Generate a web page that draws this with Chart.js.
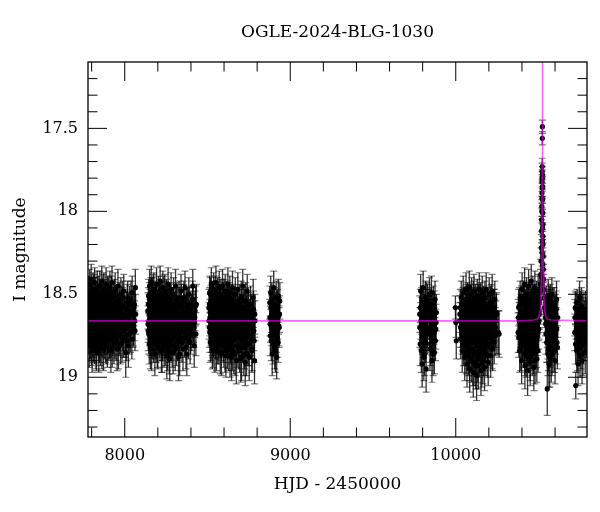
<!DOCTYPE html>
<html>
<head>
<meta charset="utf-8">
<script src="https://cdn.jsdelivr.net/npm/chart.js@4.4.1/dist/chart.umd.min.js"></script>
<style>
  html, body { margin: 0; padding: 0; background: #fff; }
  canvas { display: block; }
</style>
</head>
<body>
<canvas id="lc" width="600" height="512"></canvas>
<script>
// OGLE-2024-BLG-1030 light curve: [HJD-2450000, I mag, error]

const s2017 = [
  [7779,18.62,.11],[7781,18.49,.10],[7783,18.74,.12],[7785,18.58,.10],[7786,18.81,.13],[7788,18.44,.09],
  [7790,18.67,.11],[7792,18.55,.10],[7794,18.77,.12],[7795,18.63,.11],[7797,18.41,.09],[7799,18.70,.11],
  [7801,18.52,.10],[7803,18.84,.13],[7804,18.60,.11],[7806,18.73,.12],[7808,18.47,.10],[7810,18.66,.11],
  [7812,18.79,.12],[7814,18.56,.10],[7816,18.69,.11],[7818,18.43,.09],[7820,18.61,.11],[7822,18.75,.12],
  [7824,18.50,.10],[7826,18.82,.13],[7828,18.64,.11],[7830,18.57,.10],[7832,18.71,.12],[7834,18.46,.10],
  [7836,18.68,.11],[7838,18.53,.10],[7840,18.78,.12],[7843,18.85,.12],[7845,18.59,.11],[7847,18.72,.12],
  [7849,18.45,.09],[7851,18.65,.11],[7853,18.80,.13],[7855,18.54,.10],[7857,18.69,.11],[7859,18.62,.11],
  [7861,18.42,.09],[7863,18.76,.12],[7865,18.58,.10],[7867,18.70,.11],[7869,18.48,.10],[7871,18.83,.13],
  [7873,18.63,.11],[7875,18.55,.10],[7877,18.74,.12],[7879,18.66,.11],[7881,18.51,.10],[7883,18.79,.12],
  [7885,18.60,.11],[7887,18.44,.10],[7889,18.71,.12],[7891,18.57,.10],[7893,18.68,.11],[7895,18.81,.13],
  [7897,18.49,.10],[7899,18.64,.11],[7901,18.73,.12],[7903,18.53,.10],[7905,18.61,.11],[7908,18.77,.12],
  [7910,18.46,.10],[7912,18.67,.11],[7914,18.56,.10],[7916,18.84,.13],[7918,18.62,.11],[7920,18.70,.11],
  [7923,18.43,.10],[7925,18.59,.11],[7927,18.75,.12],[7930,18.52,.10],[7932,18.66,.11],[7935,18.80,.12],
  [7937,18.58,.10],[7940,18.69,.11],[7942,18.47,.10],[7945,18.63,.11],[7948,18.78,.12],[7950,18.55,.10],
  [7953,18.71,.12],[7956,18.60,.11],[7959,18.45,.10],[7962,18.82,.13],[7965,18.65,.11],[7968,18.53,.10],
  [7971,18.74,.12],[7974,18.61,.11],[7977,18.50,.10],[7980,18.68,.11],[7984,18.79,.12],[7987,18.57,.11],
  [7990,18.72,.12],[7994,18.48,.10],[7998,18.64,.11],[8002,18.76,.12],[8006,18.85,.15],[8010,18.59,.11],
  [8014,18.69,.12],[8018,18.52,.10],[8022,18.81,.13],[8026,18.63,.11],[8030,18.56,.11],[8035,18.73,.12],
  [8040,18.61,.11],[8045,18.49,.10],[8050,18.70,.12],[8055,18.58,.11],[8060,18.66,.12],[8064,18.46,.11],
  [8066,18.62,.12],
  [7780,18.70,.11],[7782,18.57,.10],[7784,18.65,.11],[7787,18.53,.10],[7789,18.78,.12],[7791,18.62,.11],
  [7793,18.50,.10],[7796,18.69,.11],[7798,18.81,.12],[7800,18.59,.11],[7802,18.66,.11],[7805,18.54,.10],
  [7807,18.76,.12],[7809,18.61,.11],[7811,18.72,.12],[7813,18.48,.10],[7815,18.64,.11],[7817,18.80,.12],
  [7819,18.57,.10],[7821,18.68,.11],[7823,18.52,.10],[7825,18.74,.12],[7827,18.60,.11],[7829,18.83,.13],
  [7831,18.65,.11],[7833,18.55,.10],[7835,18.71,.12],[7837,18.62,.11],[7839,18.49,.10],[7841,18.67,.11],
  [7844,18.73,.12],[7846,18.56,.10],[7848,18.79,.12],[7850,18.61,.11],[7852,18.68,.11],[7854,18.51,.10],
  [7856,18.75,.12],[7858,18.58,.11],[7860,18.70,.11],[7862,18.82,.13],[7864,18.64,.11],[7866,18.53,.10],
  [7868,18.72,.12],[7870,18.60,.11],[7872,18.67,.11],[7874,18.47,.10],[7876,18.77,.12],[7878,18.59,.11],
  [7880,18.69,.11],[7882,18.56,.10],[7884,18.73,.12],[7886,18.63,.11],[7888,18.80,.12],[7890,18.52,.10],
  [7892,18.66,.11],[7894,18.58,.11],[7896,18.74,.12],[7898,18.61,.11],[7900,18.50,.10],[7902,18.68,.11],
  [7904,18.78,.12],[7906,18.57,.11],[7909,18.65,.11],[7911,18.72,.12],[7913,18.54,.10],[7915,18.62,.11],
  [7917,18.76,.12],[7919,18.49,.10],[7921,18.67,.11],[7924,18.81,.13],[7926,18.60,.11],[7928,18.70,.12],
  [7931,18.56,.10],[7933,18.74,.12],[7936,18.63,.11],[7938,18.51,.10],[7941,18.77,.12],[7943,18.66,.11],
  [7946,18.58,.11],[7949,18.71,.12],[7951,18.64,.11],[7954,18.83,.13],[7957,18.55,.10],[7960,18.69,.11],
  [7963,18.61,.11],[7966,18.75,.12],[7969,18.59,.11],[7972,18.67,.11],[7975,18.80,.12],[7978,18.56,.11],
  [7982,18.70,.12],[7985,18.62,.11],[7988,18.52,.10],[7992,18.76,.12],[7996,18.65,.11],[8000,18.58,.11],
  [8004,18.71,.12],[8008,18.63,.11],[8012,18.78,.12],[8016,18.55,.11],[8020,18.67,.11],[8024,18.60,.11],
  [8028,18.74,.12],[8032,18.68,.12],[8038,18.53,.11],[8043,18.77,.12],[8048,18.62,.11],[8053,18.69,.12],
  [8058,18.56,.11],[8062,18.72,.12]
];

const s2018 = [
  [8140,18.60,.11],[8142,18.72,.12],[8144,18.51,.10],[8146,18.66,.11],[8148,18.80,.12],[8150,18.45,.10],
  [8152,18.62,.11],[8154,18.75,.12],[8156,18.55,.10],[8158,18.69,.11],[8160,18.43,.10],[8162,18.83,.13],
  [8164,18.58,.11],[8166,18.65,.11],[8168,18.50,.10],[8170,18.77,.12],[8172,18.61,.11],[8174,18.70,.11],
  [8176,18.47,.10],[8178,18.73,.12],[8180,18.56,.10],[8182,18.86,.13],[8184,18.64,.11],[8186,18.53,.10],
  [8188,18.68,.11],[8190,18.79,.12],[8192,18.44,.10],[8194,18.60,.11],[8196,18.71,.12],[8198,18.57,.10],
  [8200,18.82,.13],[8202,18.63,.11],[8204,18.49,.10],[8206,18.67,.11],[8208,18.76,.12],[8210,18.54,.10],
  [8212,18.66,.11],[8214,18.42,.09],[8216,18.74,.12],[8218,18.59,.11],[8220,18.69,.11],[8222,18.84,.13],
  [8224,18.52,.10],[8226,18.62,.11],[8228,18.78,.12],[8230,18.46,.10],[8232,18.65,.11],[8234,18.72,.12],
  [8236,18.56,.10],[8238,18.81,.13],[8240,18.61,.11],[8242,18.48,.10],[8244,18.70,.11],[8246,18.58,.11],
  [8248,18.75,.12],[8250,18.64,.11],[8252,18.51,.10],[8254,18.87,.14],[8256,18.67,.11],[8258,18.55,.10],
  [8260,18.73,.12],[8262,18.44,.10],[8264,18.62,.11],[8266,18.79,.12],[8268,18.59,.11],[8270,18.68,.11],
  [8272,18.89,.13],[8274,18.53,.10],[8276,18.71,.12],[8278,18.63,.11],[8280,18.47,.10],[8283,18.77,.12],
  [8286,18.57,.11],[8289,18.66,.11],[8292,18.85,.13],[8295,18.50,.10],[8298,18.69,.11],[8301,18.60,.11],
  [8304,18.74,.12],[8307,18.45,.10],[8310,18.64,.11],[8313,18.80,.13],[8316,18.56,.10],[8319,18.70,.12],
  [8322,18.62,.11],[8325,18.88,.14],[8328,18.52,.10],[8331,18.67,.11],[8334,18.76,.12],[8337,18.58,.11],
  [8340,18.48,.10],[8344,18.72,.12],[8348,18.63,.11],[8352,18.83,.13],[8356,18.55,.11],[8360,18.68,.11],
  [8364,18.46,.10],[8368,18.75,.12],[8372,18.61,.11],[8375,18.86,.13],[8379,18.57,.11],[8383,18.70,.12],
  [8387,18.50,.10],[8391,18.65,.11],[8395,18.79,.13],[8400,18.59,.11],[8405,18.72,.12],[8410,18.53,.11],
  [8411,18.45,.10],[8415,18.67,.12],[8420,18.81,.13],[8425,18.60,.12],[8430,18.74,.13],[8433,18.56,.12],
  [8141,18.68,.11],[8143,18.56,.10],[8145,18.74,.12],[8147,18.61,.11],[8149,18.53,.10],[8151,18.70,.11],
  [8153,18.58,.11],[8155,18.82,.13],[8157,18.64,.11],[8159,18.50,.10],[8161,18.67,.11],[8163,18.76,.12],
  [8165,18.55,.10],[8167,18.71,.12],[8169,18.62,.11],[8171,18.48,.10],[8173,18.79,.12],[8175,18.65,.11],
  [8177,18.57,.10],[8179,18.69,.11],[8181,18.73,.12],[8183,18.52,.10],[8185,18.60,.11],[8187,18.77,.12],
  [8189,18.66,.11],[8191,18.54,.10],[8193,18.72,.12],[8195,18.63,.11],[8197,18.81,.13],[8199,18.59,.11],
  [8201,18.68,.11],[8203,18.56,.10],[8205,18.74,.12],[8207,18.62,.11],[8209,18.51,.10],[8211,18.70,.12],
  [8213,18.78,.12],[8215,18.58,.11],[8217,18.65,.11],[8219,18.53,.10],[8221,18.72,.12],[8223,18.61,.11],
  [8225,18.84,.13],[8227,18.67,.11],[8229,18.55,.10],[8231,18.75,.12],[8233,18.60,.11],[8235,18.69,.11],
  [8237,18.49,.10],[8239,18.77,.12],[8241,18.64,.11],[8243,18.57,.10],[8245,18.80,.13],[8247,18.66,.11],
  [8249,18.52,.10],[8251,18.71,.12],[8253,18.62,.11],[8255,18.76,.12],[8257,18.59,.11],[8259,18.83,.13],
  [8261,18.68,.11],[8263,18.55,.10],[8265,18.73,.12],[8267,18.63,.11],[8269,18.85,.13],[8271,18.60,.11],
  [8273,18.70,.12],[8275,18.54,.10],[8277,18.78,.12],[8279,18.66,.11],[8281,18.58,.11],[8284,18.72,.12],
  [8287,18.81,.13],[8290,18.61,.11],[8293,18.69,.11],[8296,18.56,.10],[8299,18.75,.12],[8302,18.64,.11],
  [8305,18.83,.13],[8308,18.59,.11],[8311,18.71,.12],[8314,18.53,.10],[8317,18.67,.11],[8320,18.78,.12],
  [8323,18.62,.11],[8326,18.74,.12],[8329,18.57,.11],[8332,18.86,.13],[8335,18.65,.11],[8338,18.70,.12],
  [8342,18.55,.11],[8346,18.79,.12],[8350,18.62,.11],[8354,18.69,.12],[8358,18.52,.10],[8362,18.76,.12],
  [8366,18.64,.11],[8370,18.82,.13],[8373,18.58,.11],[8377,18.71,.12],[8381,18.63,.11],[8385,18.77,.12],
  [8389,18.56,.11],[8393,18.68,.12],[8398,18.74,.12],[8403,18.61,.11],[8408,18.66,.12],[8413,18.58,.12],
  [8418,18.70,.12],[8423,18.64,.12],[8428,18.57,.12]
];

const s2019 = [
  [8509,18.58,.11],[8511,18.70,.12],[8513,18.49,.10],[8515,18.64,.11],[8517,18.79,.12],[8519,18.55,.10],
  [8521,18.67,.11],[8523,18.44,.10],[8525,18.73,.12],[8527,18.61,.11],[8529,18.82,.13],[8531,18.52,.10],
  [8533,18.66,.11],[8535,18.76,.12],[8537,18.47,.10],[8539,18.63,.11],[8541,18.71,.12],[8543,18.57,.10],
  [8545,18.84,.13],[8547,18.60,.11],[8549,18.68,.11],[8551,18.43,.10],[8553,18.74,.12],[8555,18.54,.10],
  [8557,18.65,.11],[8559,18.80,.12],[8561,18.50,.10],[8563,18.69,.11],[8565,18.59,.11],[8567,18.77,.12],
  [8569,18.62,.11],[8571,18.46,.10],[8573,18.72,.12],[8575,18.56,.10],[8577,18.85,.13],[8579,18.64,.11],
  [8581,18.51,.10],[8583,18.70,.11],[8585,18.78,.12],[8587,18.58,.11],[8589,18.66,.11],[8591,18.45,.10],
  [8593,18.75,.12],[8595,18.61,.11],[8597,18.53,.10],[8599,18.81,.13],[8601,18.67,.11],[8603,18.57,.10],
  [8605,18.73,.12],[8607,18.48,.10],[8609,18.63,.11],[8611,18.87,.13],[8613,18.59,.11],[8615,18.69,.11],
  [8617,18.52,.10],[8619,18.76,.12],[8621,18.64,.11],[8623,18.44,.10],[8625,18.71,.12],[8627,18.56,.10],
  [8629,18.83,.13],[8631,18.61,.11],[8633,18.67,.11],[8635,18.49,.10],[8637,18.79,.12],[8639,18.58,.11],
  [8641,18.72,.12],[8643,18.62,.11],[8645,18.88,.14],[8647,18.54,.10],[8649,18.68,.11],[8651,18.46,.10],
  [8653,18.74,.12],[8656,18.60,.11],[8659,18.85,.13],[8662,18.57,.11],[8665,18.70,.12],[8668,18.50,.10],
  [8671,18.66,.11],[8674,18.90,.14],[8677,18.59,.11],[8680,18.73,.12],[8683,18.47,.10],[8686,18.63,.11],
  [8689,18.82,.13],[8692,18.55,.11],[8695,18.69,.12],[8698,18.61,.11],[8701,18.89,.14],[8704,18.52,.10],
  [8707,18.76,.12],[8710,18.64,.11],[8713,18.45,.10],[8716,18.71,.12],[8719,18.86,.13],[8722,18.58,.11],
  [8725,18.67,.11],[8728,18.91,.14],[8731,18.54,.11],[8734,18.74,.12],[8737,18.62,.11],[8740,18.48,.10],
  [8744,18.80,.13],[8748,18.60,.11],[8752,18.88,.14],[8756,18.69,.12],[8760,18.56,.11],[8764,18.77,.12],
  [8768,18.84,.13],[8772,18.63,.12],[8776,18.52,.11],[8780,18.72,.12],[8784,18.90,.14],[8787,18.66,.12],
  [8510,18.66,.11],[8512,18.56,.10],[8514,18.73,.12],[8516,18.61,.11],[8518,18.50,.10],[8520,18.70,.11],
  [8522,18.78,.12],[8524,18.58,.11],[8526,18.65,.11],[8528,18.53,.10],[8530,18.75,.12],[8532,18.62,.11],
  [8534,18.81,.13],[8536,18.67,.11],[8538,18.55,.10],[8540,18.72,.12],[8542,18.60,.11],[8544,18.68,.11],
  [8546,18.49,.10],[8548,18.77,.12],[8550,18.64,.11],[8552,18.57,.10],[8554,18.83,.13],[8556,18.69,.11],
  [8558,18.59,.11],[8560,18.74,.12],[8562,18.62,.11],[8564,18.52,.10],[8566,18.71,.12],[8568,18.80,.12],
  [8570,18.66,.11],[8572,18.56,.10],[8574,18.68,.11],[8576,18.61,.11],[8578,18.76,.12],[8580,18.54,.10],
  [8582,18.65,.11],[8584,18.86,.13],[8586,18.70,.12],[8588,18.60,.11],[8590,18.73,.12],[8592,18.57,.10],
  [8594,18.67,.11],[8596,18.79,.12],[8598,18.63,.11],[8600,18.51,.10],[8602,18.72,.12],[8604,18.62,.11],
  [8606,18.84,.13],[8608,18.66,.11],[8610,18.58,.11],[8612,18.75,.12],[8614,18.64,.11],[8616,18.70,.12],
  [8618,18.55,.10],[8620,18.82,.13],[8622,18.68,.11],[8624,18.60,.11],[8626,18.77,.12],[8628,18.65,.11],
  [8630,18.53,.10],[8632,18.73,.12],[8634,18.62,.11],[8636,18.87,.13],[8638,18.69,.11],[8640,18.57,.11],
  [8642,18.80,.12],[8644,18.66,.11],[8646,18.74,.12],[8648,18.59,.11],[8650,18.83,.13],[8652,18.63,.11],
  [8655,18.70,.12],[8658,18.55,.10],[8661,18.77,.12],[8664,18.65,.11],[8667,18.86,.13],[8670,18.60,.11],
  [8673,18.72,.12],[8676,18.64,.11],[8679,18.81,.13],[8682,18.57,.11],[8685,18.69,.12],[8688,18.76,.12],
  [8691,18.62,.11],[8694,18.84,.13],[8697,18.67,.11],[8700,18.73,.12],[8703,18.58,.11],[8706,18.88,.14],
  [8709,18.66,.11],[8712,18.79,.12],[8715,18.61,.11],[8718,18.71,.12],[8721,18.54,.10],[8724,18.82,.13],
  [8727,18.65,.11],[8730,18.76,.12],[8733,18.60,.11],[8736,18.86,.13],[8739,18.68,.11],[8742,18.73,.12],
  [8746,18.57,.11],[8750,18.80,.13],[8754,18.64,.11],[8758,18.75,.12],[8762,18.61,.11],[8766,18.70,.12],
  [8770,18.83,.13],[8774,18.66,.12],[8778,18.59,.11],[8782,18.78,.13],[8786,18.62,.12]
];

const s2020 = [
  [8876,18.55,.10],[8879,18.68,.11],[8882,18.49,.10],[8885,18.78,.12],[8888,18.62,.11],[8891,18.86,.13],
  [8894,18.57,.10],[8897,18.71,.12],[8900,18.46,.10],[8903,18.65,.11],[8906,18.82,.13],[8909,18.60,.11],
  [8912,18.74,.12],[8915,18.52,.10],[8918,18.88,.13],[8921,18.67,.11],[8924,18.58,.11],[8927,18.79,.12],
  [8930,18.63,.11],[8933,18.70,.12],[8937,18.54,.11],
  [8877,18.64,.11],[8880,18.75,.12],[8883,18.58,.10],[8886,18.70,.11],[8889,18.53,.10],[8892,18.66,.11],
  [8895,18.80,.12],[8898,18.61,.11],[8901,18.72,.12],[8904,18.56,.10],[8907,18.68,.11],[8910,18.84,.13],
  [8913,18.63,.11],[8916,18.73,.12],[8919,18.59,.11],[8922,18.76,.12],[8925,18.66,.11],[8928,18.51,.10],
  [8931,18.69,.12],[8935,18.62,.11]
];

const s2022 = [
  [9782,18.62,.11],[9785,18.80,.13],[9788,18.48,.10],[9791,18.71,.12],[9794,18.57,.11],[9797,18.92,.14],
  [9800,18.65,.11],[9803,18.46,.10],[9806,18.76,.12],[9809,18.59,.11],[9812,18.86,.13],[9815,18.68,.11],
  [9818,18.52,.10],[9821,18.95,.14],[9824,18.63,.11],[9827,18.74,.12],[9830,18.55,.11],
  [9838,18.66,.11],[9841,18.50,.10],[9844,18.83,.13],[9847,18.60,.11],[9850,18.73,.12],[9853,18.49,.10],
  [9856,18.90,.13],[9859,18.64,.11],[9862,18.77,.12],[9865,18.56,.11],[9868,18.69,.11],[9871,18.85,.13],
  [9875,18.53,.11],[9879,18.71,.12],[9883,18.61,.11],
  [9783,18.70,.12],[9786,18.58,.11],[9789,18.66,.11],[9792,18.84,.13],[9795,18.63,.11],[9798,18.74,.12],
  [9801,18.55,.10],[9804,18.69,.11],[9807,18.88,.14],[9810,18.61,.11],[9813,18.72,.12],[9816,18.58,.11],
  [9819,18.79,.12],[9822,18.66,.11],[9825,18.53,.10],[9828,18.70,.12],
  [9839,18.58,.11],[9842,18.72,.12],[9845,18.64,.11],[9848,18.80,.13],[9851,18.56,.10],[9854,18.68,.11],
  [9857,18.75,.12],[9860,18.61,.11],[9863,18.86,.13],[9866,18.66,.11],[9869,18.73,.12],[9872,18.59,.11],
  [9877,18.78,.12],[9881,18.67,.11]
];

const s2023 = [
  [9998,18.58,.07],[10001,18.67,.09],[10003,18.78,.11],
  [10024,18.66,.11],[10027,18.58,.11],[10030,18.77,.12],[10033,18.52,.10],[10036,18.70,.12],[10039,18.84,.13],
  [10042,18.61,.11],[10045,18.49,.10],[10048,18.74,.12],[10051,18.63,.11],[10054,18.88,.14],[10057,18.56,.11],
  [10060,18.69,.12],[10062,18.47,.10],[10064,18.80,.13],[10066,18.60,.11],[10068,18.92,.14],[10070,18.66,.11],
  [10072,18.53,.10],[10074,18.75,.12],[10076,18.86,.13],[10078,18.58,.11],[10080,18.71,.12],[10082,18.46,.10],
  [10084,18.95,.14],[10086,18.63,.11],[10088,18.79,.12],[10090,18.55,.11],[10092,18.68,.11],[10094,18.89,.14],
  [10096,18.50,.10],[10098,18.73,.12],[10100,18.61,.11],[10102,18.83,.13],[10104,18.57,.11],[10106,18.97,.15],
  [10108,18.66,.11],[10110,18.48,.10],[10112,18.77,.12],[10114,18.62,.11],[10116,18.91,.14],[10118,18.54,.10],
  [10120,18.70,.12],[10122,18.85,.13],[10124,18.59,.11],[10126,18.99,.15],[10128,18.67,.11],[10130,18.51,.10],
  [10132,18.80,.13],[10134,18.64,.11],[10136,18.93,.14],[10138,18.56,.11],[10140,18.72,.12],[10142,18.47,.10],
  [10144,18.87,.13],[10146,18.61,.11],[10148,18.76,.12],[10150,18.53,.10],[10152,18.96,.15],[10154,18.68,.11],
  [10156,18.58,.11],[10158,18.82,.13],[10160,18.49,.10],[10162,18.71,.12],[10164,18.90,.14],[10166,18.63,.11],
  [10168,18.55,.10],[10170,18.78,.12],[10172,18.66,.11],[10174,18.94,.14],[10176,18.52,.10],[10178,18.74,.12],
  [10180,18.60,.11],[10182,18.86,.13],[10184,18.47,.10],[10187,18.69,.12],[10190,18.81,.13],[10193,18.57,.11],
  [10196,18.91,.14],[10199,18.64,.11],[10202,18.50,.10],[10205,18.75,.12],[10208,18.62,.11],[10211,18.87,.13],
  [10214,18.55,.11],[10217,18.72,.12],[10220,18.48,.10],[10223,18.83,.13],[10226,18.66,.12],[10229,18.58,.11],
  [10232,18.79,.13],[10236,18.53,.11],[10240,18.70,.12],[10244,18.62,.12],[10248,18.74,.12],[10257,18.73,.13],
  [10262,18.74,.14],
  [10025,18.62,.11],[10029,18.70,.12],[10032,18.66,.11],[10035,18.59,.11],[10038,18.74,.12],[10041,18.68,.11],
  [10044,18.56,.10],[10047,18.80,.13],[10050,18.64,.11],[10053,18.71,.12],[10056,18.58,.11],[10059,18.76,.12],
  [10061,18.63,.11],[10063,18.85,.13],[10065,18.69,.11],[10067,18.54,.10],[10069,18.73,.12],[10071,18.61,.11],
  [10073,18.82,.13],[10075,18.67,.11],[10077,18.57,.10],[10079,18.78,.12],[10081,18.64,.11],[10083,18.88,.14],
  [10085,18.70,.12],[10087,18.55,.10],[10089,18.74,.12],[10091,18.62,.11],[10093,18.84,.13],[10095,18.66,.11],
  [10097,18.59,.11],[10099,18.79,.12],[10101,18.69,.11],[10103,18.91,.14],[10105,18.63,.11],[10107,18.52,.10],
  [10109,18.75,.12],[10111,18.67,.11],[10113,18.86,.13],[10115,18.58,.11],[10117,18.72,.12],[10119,18.64,.11],
  [10121,18.93,.14],[10123,18.69,.11],[10125,18.56,.10],[10127,18.81,.13],[10129,18.62,.11],[10131,18.74,.12],
  [10133,18.89,.14],[10135,18.66,.11],[10137,18.54,.10],[10139,18.78,.12],[10141,18.63,.11],[10143,18.71,.12],
  [10145,18.84,.13],[10147,18.58,.11],[10149,18.68,.11],[10151,18.80,.13],[10153,18.61,.11],[10155,18.73,.12],
  [10157,18.92,.14],[10159,18.65,.11],[10161,18.56,.10],[10163,18.77,.12],[10165,18.69,.11],[10167,18.86,.13],
  [10169,18.60,.11],[10171,18.72,.12],[10173,18.64,.11],[10175,18.83,.13],[10177,18.57,.10],[10179,18.70,.12],
  [10181,18.79,.12],[10183,18.62,.11],[10186,18.74,.12],[10189,18.66,.11],[10192,18.87,.13],[10195,18.59,.11],
  [10198,18.71,.12],[10201,18.80,.13],[10204,18.63,.11],[10207,18.68,.12],[10210,18.56,.11],[10213,18.76,.12],
  [10216,18.65,.11],[10219,18.82,.13],[10222,18.60,.11],[10225,18.71,.12],[10228,18.64,.12],[10231,18.69,.12],
  [10234,18.58,.11],[10238,18.75,.12],[10242,18.66,.12],[10246,18.61,.12]
];

const s2024 = [
  [10377,18.73,.12],[10380,18.58,.11],[10383,18.66,.11],[10386,18.84,.13],[10389,18.52,.10],[10392,18.70,.12],
  [10395,18.61,.11],[10398,18.90,.14],[10401,18.47,.10],[10404,18.76,.12],[10407,18.63,.11],[10410,18.55,.10],
  [10412,18.81,.13],[10414,18.68,.11],[10416,18.44,.10],[10418,18.93,.14],[10420,18.59,.11],[10422,18.72,.12],
  [10424,18.65,.11],[10426,18.87,.13],[10428,18.50,.10],[10430,18.78,.12],[10432,18.62,.11],[10434,18.96,.15],
  [10436,18.56,.10],[10438,18.70,.12],[10440,18.45,.10],[10442,18.83,.13],[10444,18.64,.11],[10446,18.74,.12],
  [10448,18.53,.10],[10450,18.91,.14],[10452,18.60,.11],[10454,18.68,.11],[10456,18.42,.10],[10458,18.79,.12],
  [10460,18.57,.11],[10462,18.86,.13],[10464,18.66,.11],[10466,18.49,.10],[10468,18.75,.12],[10470,18.62,.11],
  [10472,18.94,.14],[10474,18.55,.11],[10476,18.71,.12],[10478,18.46,.10],[10480,18.82,.13],[10482,18.63,.11],
  [10484,18.58,.11],[10486,18.77,.12],[10488,18.52,.10],[10490,18.89,.14],[10492,18.65,.11],[10494,18.60,.11],
  [10496,18.73,.12],[10498,18.48,.10],[10500,18.67,.11],[10502,18.56,.10],[10504,18.62,.11],[10506,18.55,.10],
  [10508,18.49,.10],[10510,18.53,.10],[10512,18.44,.09],[10514,18.38,.09],
  [10378,18.64,.11],[10381,18.76,.12],[10384,18.57,.11],[10387,18.73,.12],[10390,18.66,.11],[10393,18.83,.13],
  [10396,18.55,.10],[10399,18.69,.11],[10402,18.61,.11],[10405,18.79,.12],[10408,18.68,.11],[10411,18.52,.10],
  [10413,18.74,.12],[10415,18.63,.11],[10417,18.86,.13],[10419,18.70,.12],[10421,18.57,.10],[10423,18.77,.12],
  [10425,18.62,.11],[10427,18.69,.11],[10429,18.84,.13],[10431,18.55,.10],[10433,18.72,.12],[10435,18.65,.11],
  [10437,18.80,.13],[10439,18.60,.11],[10441,18.67,.11],[10443,18.53,.10],[10445,18.76,.12],[10447,18.63,.11],
  [10449,18.88,.14],[10451,18.70,.12],[10453,18.58,.11],[10455,18.73,.12],[10457,18.65,.11],[10459,18.82,.13],
  [10461,18.61,.11],[10463,18.69,.11],[10465,18.54,.10],[10467,18.78,.12],[10469,18.66,.11],[10471,18.85,.13],
  [10473,18.60,.11],[10475,18.73,.12],[10477,18.64,.11],[10479,18.90,.14],[10481,18.57,.11],[10483,18.70,.12],
  [10485,18.62,.11],[10487,18.81,.13],[10489,18.67,.11],[10491,18.56,.10],[10493,18.75,.12],[10495,18.63,.11],
  [10497,18.84,.13],[10499,18.59,.11],[10501,18.71,.12],[10503,18.66,.11],[10505,18.60,.11],
  [10516,18.30,.08],[10517,18.22,.08],[10518,18.12,.07],[10519,18.05,.07],[10520,17.97,.06],[10520.5,18.00,.07],
  [10521,17.89,.06],[10521,18.40,.09],[10521.5,17.82,.06],[10521.8,17.92,.06],[10522,17.76,.05],[10522.2,18.25,.08],
  [10522.5,17.73,.05],[10522.8,17.80,.05],[10523,17.56,.04],[10523.2,17.86,.06],[10523.5,17.49,.04],[10523.8,18.18,.07],
  [10524,17.78,.05],[10524.5,17.85,.06],[10524.8,18.10,.07],[10525,17.93,.06],[10525.5,18.01,.06],[10525.5,18.32,.08],
  [10526,18.08,.07],[10526.5,18.15,.07],[10527,18.20,.08],[10528,18.27,.08],[10529,18.35,.08],[10530,18.41,.09],
  [10532,18.47,.09],[10534,18.52,.10],[10536,18.58,.10],
  [10540,18.60,.10],[10544,18.68,.11],[10547,18.55,.10],[10550,18.79,.12],[10553,19.07,.16],[10555,18.63,.11],
  [10557,18.86,.13],[10559,18.51,.10],[10561,18.72,.12],[10563,18.92,.14],[10565,18.58,.11],[10567,18.66,.11],
  [10569,18.81,.13],[10571,18.54,.10],[10573,18.75,.12],[10575,18.62,.11],[10577,18.89,.14],[10579,18.69,.11],
  [10581,18.50,.10],[10583,18.77,.12],[10585,18.60,.11],[10588,18.84,.13],[10591,18.65,.11],[10594,18.56,.10],
  [10597,18.73,.12],[10600,18.90,.14],[10603,18.61,.11],[10606,18.70,.12],[10609,18.53,.11],[10612,18.79,.13],
  [10616,18.64,.12],
  [10542,18.64,.11],[10545,18.74,.12],[10548,18.62,.11],[10551,18.58,.10],[10554,18.70,.12],[10556,18.77,.12],
  [10558,18.61,.11],[10560,18.83,.13],[10562,18.66,.11],[10564,18.55,.10],[10566,18.73,.12],[10568,18.92,.14],
  [10570,18.63,.11],[10572,18.69,.12],[10574,18.80,.13],[10576,18.58,.11],[10578,18.75,.12],[10580,18.65,.11],
  [10582,18.86,.13],[10584,18.71,.12],[10586,18.56,.10],[10589,18.68,.11],[10592,18.78,.12],[10595,18.62,.11],
  [10598,18.84,.13],[10601,18.66,.11],[10604,18.74,.12],[10607,18.59,.11],[10610,18.71,.12],[10614,18.82,.13]
];

const s2025 = [
  [10719,18.73,.11],[10722,18.58,.10],[10725,19.05,.08],[10728,18.66,.11],[10731,18.84,.13],[10733,18.55,.08],
  [10736,18.70,.12],[10739,18.92,.13],[10742,18.61,.11],[10745,18.78,.12],[10748,18.52,.10],[10751,18.87,.13],
  [10754,18.64,.11],[10757,18.74,.12],[10760,18.57,.11],[10763,18.90,.14],[10766,18.68,.11],[10770,18.80,.12],
  [10774,18.60,.11],[10778,18.72,.12],[10782,18.85,.13],[10786,18.63,.11],[10790,18.76,.12],
  [10720,18.64,.11],[10724,18.80,.12],[10727,18.59,.10],[10730,18.70,.11],[10734,18.66,.11],[10737,18.83,.13],
  [10740,18.74,.12],[10744,18.62,.11],[10747,18.69,.11],[10750,18.77,.12],[10753,18.58,.10],[10756,18.82,.13],
  [10759,18.67,.11],[10762,18.72,.12],[10765,18.61,.11],[10768,18.86,.13],[10772,18.70,.12],[10776,18.65,.11],
  [10780,18.78,.12],[10784,18.59,.11],[10788,18.71,.12],[10792,18.66,.12]
];

// point-lens model curve
const modelT = [7778, 10400, 10470, 10490, 10500, 10505, 10510, 10514.5, 10518, 10520.5, 10522, 10523, 10523.5,
                10524, 10525, 10526.5, 10529, 10532.5, 10537, 10542, 10547, 10557, 10577, 10793];
const modelMag = [18.66, 18.66, 18.655, 18.65, 18.64, 18.625, 18.6, 18.52, 18.35, 18.05, 17.7, 17.3, 16.6,
                  17.3, 17.7, 18.05, 18.35, 18.52, 18.6, 18.625, 18.64, 18.65, 18.655, 18.66];

const xMajorTicks = [8000, 9000, 10000];
const xMinorTicks = [7800, 8200, 8400, 8600, 8800, 9200, 9400, 9600, 9800, 10200, 10400, 10600];
const yMajorTicks = [17.5, 18, 18.5, 19];
const yMinorTicks = [17.2, 17.3, 17.4, 17.6, 17.7, 17.8, 17.9, 18.1, 18.2, 18.3, 18.4,
                     18.6, 18.7, 18.8, 18.9, 19.1, 19.2, 19.3];

const SERIF = "'DejaVu Serif', 'Liberation Serif', serif";

const points = [...s2017, ...s2018, ...s2019, ...s2020, ...s2022, ...s2023, ...s2024, ...s2025]
    .map(([t, m, e]) => ({ x: t, y: m, e }));
const model = modelT.map((t, i) => ({ x: t, y: modelMag[i] }));

// vertical error bars with caps, under the dots
const errorBars = {
    id: 'errorBars',
    beforeDatasetDraw(chart, args) {
        if (args.index !== 1) return;
        const { ctx, chartArea: a, scales: { x, y } } = chart;
        ctx.save();
        ctx.beginPath();
        ctx.rect(a.left, a.top, a.right - a.left, a.bottom - a.top);
        ctx.clip();
        points.forEach(p => {
            const px = x.getPixelForValue(p.x);
            const y0 = y.getPixelForValue(p.y - p.e);
            const y1 = y.getPixelForValue(p.y + p.e);
            ctx.strokeStyle = 'rgba(0,0,0,0.8)';
            ctx.lineWidth = 1.3;
            ctx.beginPath();
            ctx.moveTo(px, y0); ctx.lineTo(px, y1);
            ctx.stroke();
            ctx.strokeStyle = 'rgba(0,0,0,0.5)';
            ctx.lineWidth = 1.2;
            ctx.beginPath();
            ctx.moveTo(px - 3.5, y0); ctx.lineTo(px + 3.5, y0);
            ctx.moveTo(px - 3.5, y1); ctx.lineTo(px + 3.5, y1);
            ctx.stroke();
        });
        ctx.restore();
    }
};

// box frame with inward ticks on all four sides
const frame = {
    id: 'frame',
    afterDraw(chart) {
        const { ctx, chartArea: a, scales: { x, y } } = chart;
        ctx.save();
        ctx.strokeStyle = '#000';
        ctx.lineWidth = 1;
        ctx.beginPath();
        const xt = (v, len) => {
            const px = x.getPixelForValue(v);
            ctx.moveTo(px, a.bottom); ctx.lineTo(px, a.bottom - len);
            ctx.moveTo(px, a.top); ctx.lineTo(px, a.top + len);
        };
        const yt = (v, len) => {
            const py = y.getPixelForValue(v);
            ctx.moveTo(a.left, py); ctx.lineTo(a.left + len, py);
            ctx.moveTo(a.right, py); ctx.lineTo(a.right - len, py);
        };
        xMajorTicks.forEach(v => xt(v, 19));
        xMinorTicks.forEach(v => xt(v, 9.5));
        yMajorTicks.forEach(v => yt(v, 19));
        yMinorTicks.forEach(v => yt(v, 9.5));
        ctx.stroke();
        ctx.lineWidth = 1.3;
        ctx.strokeRect(a.left, a.top, a.right - a.left, a.bottom - a.top);
        ctx.restore();
    }
};

new Chart(document.getElementById('lc'), {
    type: 'scatter',
    data: {
        datasets: [
            {
                label: 'model',
                data: model,
                showLine: true,
                borderColor: 'rgba(255,0,255,0.6)',
                borderWidth: 1.6,
                pointRadius: 0,
                order: 0
            },
            {
                label: 'OGLE',
                data: points,
                backgroundColor: '#000',
                borderColor: '#000',
                borderWidth: 0,
                pointRadius: 2.6,
                order: 1
            }
        ]
    },
    options: {
        responsive: false,
        animation: false,
        layout: { padding: { left: 0, right: 13, top: 0, bottom: 0 } },
        plugins: {
            legend: { display: false },
            tooltip: { enabled: false },
            title: {
                display: true,
                fullSize: false,
                text: 'OGLE-2024-BLG-1030',
                color: '#000',
                font: { family: SERIF, size: 17, weight: 'normal' },
                padding: { top: 22.8, bottom: 18.8 }
            }
        },
        scales: {
            x: {
                type: 'linear',
                position: 'bottom',
                min: 7778,
                max: 10793,
                grid: { display: false, drawTicks: false },
                border: { display: false },
                afterBuildTicks: s => { s.ticks = xMajorTicks.map(v => ({ value: v })); },
                afterFit: s => { s.height = 75; },
                ticks: {
                    color: '#000',
                    padding: 9,
                    maxRotation: 0,
                    autoSkip: false,
                    font: { family: SERIF, size: 16 },
                    callback: v => String(v)
                },
                title: {
                    display: true,
                    text: 'HJD - 2450000',
                    color: '#000',
                    font: { family: SERIF, size: 17 },
                    padding: { top: 0, bottom: 16.8 }
                }
            },
            y: {
                type: 'linear',
                position: 'left',
                reverse: true,
                min: 17.1,
                max: 19.36,
                grid: { display: false, drawTicks: false },
                border: { display: false },
                afterBuildTicks: s => { s.ticks = yMajorTicks.map(v => ({ value: v })); },
                afterFit: s => { s.width = 88; },
                ticks: {
                    color: '#000',
                    padding: 10,
                    autoSkip: false,
                    font: { family: SERIF, size: 16 },
                    callback: v => String(v)
                },
                title: {
                    display: true,
                    text: 'I magnitude',
                    color: '#000',
                    font: { family: SERIF, size: 17 },
                    padding: { top: 10, bottom: 0 }
                }
            }
        }
    },
    plugins: [errorBars, frame]
});
</script>
</body>
</html>
